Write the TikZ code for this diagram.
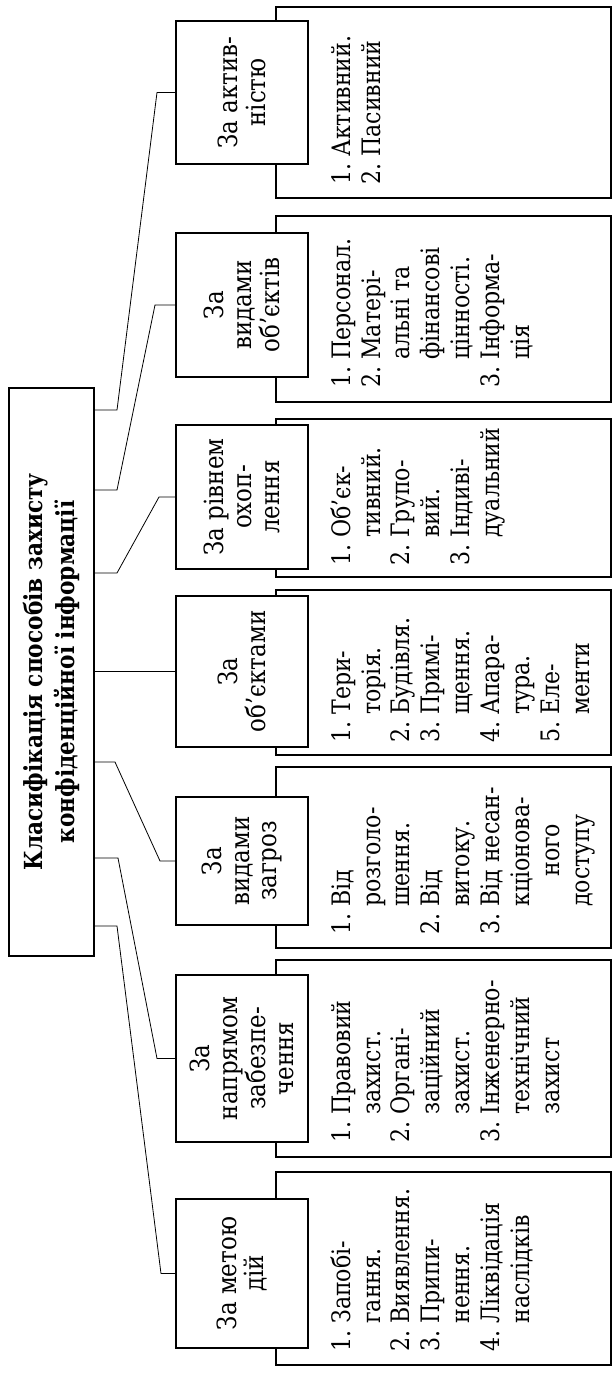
\documentclass[tikz,border=0pt]{standalone}
\usepackage{fontspec}
\setmainfont{DejaVu Serif}[FakeStretch=0.87]
\begin{document}
\begin{tikzpicture}[x=1bp,y=-1bp,
  rootbox/.style={draw, line width=1.5bp, rotate=90, align=center, inner sep=0pt,
    font=\bfseries\fontsize{25}{32}\selectfont},
  catbox/.style={draw, line width=1.3bp, fill=white, rotate=90, align=center, inner sep=0pt,
    minimum height=132bp, font=\fontsize{26.5}{28}\selectfont},
  listbox/.style={draw, line width=1.3bp, rotate=90, inner sep=0pt, minimum height=335bp},
  listtext/.style={rotate=90, anchor=north west, inner sep=0pt, align=left,
    font=\fontsize{25.5}{30}\selectfont},
  conn/.style={line width=0.8bp}]
\useasboundingbox (0,0) rectangle (613,1374);

% list boxes
\node[listbox, minimum width=191bp] (list1) at (443.5,102.5) {};
\node[listbox, minimum width=186bp] (list2) at (443.5,309) {};
\node[listbox, minimum width=158bp] (list3) at (443.5,498) {};
\node[listbox, minimum width=165bp] (list4) at (443.5,672.5) {};
\node[listbox, minimum width=181bp] (list5) at (443.5,857.5) {};
\node[listbox, minimum width=197bp] (list6) at (443.5,1058.5) {};
\node[listbox, minimum width=193bp] (list7) at (443.5,1268.5) {};

% list texts
\node[listtext] (t1) at (329,185) {\begin{tabular}{@{}l@{\ }l@{}}1. & Активний.\\ 2. & Пасивний\end{tabular}};
\node[listtext] (t2) at (329,388) {\begin{tabular}{@{}l@{\ }l@{}}1. & Персонал.\\ 2. & Матері-\\ & альні та\\ & фінансові\\ & цінності.\\ 3. & Інформа-\\ & ція\end{tabular}};
\node[listtext] (t3) at (329,566) {\begin{tabular}{@{}l@{\ }l@{}}1. & Об’єк-\\ & тивний.\\ 2. & Групо-\\ & вий.\\ 3. & Індиві-\\ & дуальний\end{tabular}};
\node[listtext] (t4) at (329,743) {\begin{tabular}{@{}l@{\ }l@{}}1. & Тери-\\ & торія.\\ 2. & Будівля.\\ 3. & Примі-\\ & щення.\\ 4. & Апара-\\ & тура.\\ 5. & Еле-\\ & менти\end{tabular}};
\node[listtext] (t5) at (329,935) {\begin{tabular}{@{}l@{\ }l@{}}1. & Від\\ & розголо-\\ & шення.\\ 2. & Від\\ & витоку.\\ 3. & Від несан-\\ & кціонова-\\ & \hspace*{30bp}ного\\ & доступу\end{tabular}};
\node[listtext] (t6) at (329,1143) {\begin{tabular}{@{}l@{\ }l@{}}1. & Правовий\\ & захист.\\ 2. & Органі-\\ & заційний\\ & захист.\\ 3. & Інженерно-\\ & технічний\\ & захист\end{tabular}};
\node[listtext] (t7) at (329,1352) {\begin{tabular}{@{}l@{\ }l@{}}1. & Запобі-\\ & гання.\\ 2. & Виявлення.\\ 3. & Припи-\\ & нення.\\ 4. & Ліквідація\\ & наслідків\end{tabular}};

% category boxes
\node[catbox, minimum width=143bp] (cat1) at (242,92.5) {За актив-\\ністю};
\node[catbox, minimum width=144bp] (cat2) at (242,305) {За\\видами\\об’єктів};
\node[catbox, minimum width=144bp] (cat3) at (242,497) {За рівнем\\охоп-\\лення};
\node[catbox, minimum width=151bp] (cat4) at (242,671.5) {За\\об’єктами};
\node[catbox, minimum width=128bp] (cat5) at (242,861) {За\\видами\\загроз};
\node[catbox, minimum width=167bp] (cat6) at (242,1058.5) {За\\напрямом\\забезпе-\\чення};
\node[catbox, minimum width=149bp] (cat7) at (242,1273.5) {За метою\\дій};

% root
\node[rootbox, minimum width=568bp, minimum height=85bp] (root) at (51.5,672)
  {Класифікація способів захисту\\конфіденційної інформації};

% connectors
\draw[conn] (root.south |- 0,410) -- (117,410) -- (157,92.5) -- (cat1.north);
\draw[conn] (root.south |- 0,490) -- (117,490) -- (155,305) -- (cat2.north);
\draw[conn] (root.south |- 0,573) -- (117,573) -- (159,497) -- (cat3.north);
\draw[conn] (root.south |- 0,671.5) -- (cat4.north);
\draw[conn] (root.south |- 0,762) -- (115,762) -- (160,861) -- (cat5.north);
\draw[conn] (root.south |- 0,858) -- (118,858) -- (157,1058.5) -- (cat6.north);
\draw[conn] (root.south |- 0,926) -- (117,926) -- (161,1273.5) -- (cat7.north);
\end{tikzpicture}
\end{document}
